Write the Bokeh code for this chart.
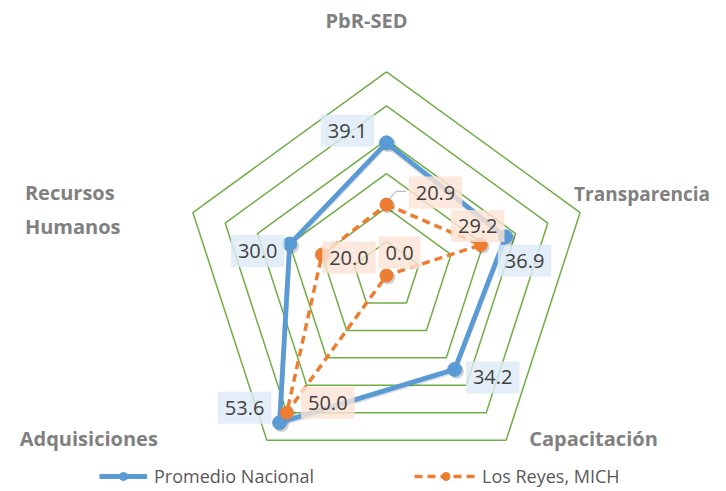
import math
from bokeh.plotting import figure
from bokeh.models import ColumnDataSource, Legend, LegendItem, Range1d
from bokeh.core.properties import value
from bokeh.embed import file_html
from bokeh.resources import INLINE

# ---- data ----
categories = ["PbR-SED", "Transparencia", "Capacitación", "Adquisiciones", "Recursos\nHumanos"]
promedio_nacional = [39.1, 36.9, 34.2, 53.6, 30.0]
los_reyes = [20.9, 29.2, 0.0, 50.0, 20.0]
series_names = ["Promedio Nacional", "Los Reyes, MICH"]
rings = [10, 20, 30, 40, 50, 60]

# ---- layout / style ----
W, H = 710, 488
CX, CY = 386, 275          # chart centre in canvas px (from top-left)
K = 3.393                  # px per unit
FONT = "Open Sans"
BLUE, ORANGE, GREEN = "#5b9bd5", "#ed7d31", "#70ad47"

n = len(categories)
ang = [2 * math.pi * i / n for i in range(n)]


def pol(r, i):
    return r * math.sin(ang[i]), r * math.cos(ang[i])


p = figure(width=W, height=H, output_backend="svg", toolbar_location=None,
           x_range=Range1d(-CX / K, (W - CX) / K),
           y_range=Range1d(-(H - CY) / K, CY / K),
           min_border=0)
p.axis.visible = False
p.grid.visible = False
p.outline_line_color = None
p.background_fill_color = "white"
p.border_fill_color = "white"

# grid pentagons
gx, gy = [], []
for rv in rings:
    pts = [pol(rv, i) for i in range(n)] + [pol(rv, 0)]
    gx.append([q[0] for q in pts])
    gy.append([q[1] for q in pts])
p.multi_line(gx, gy, line_color=GREEN, line_width=1.5)


def series_xy(vals):
    pts = [pol(v, i) for i, v in enumerate(vals)]
    return [q[0] for q in pts], [q[1] for q in pts]


bx, by = series_xy(promedio_nacional)
ox, oy = series_xy(los_reyes)
sh = 1.8 / K  # shadow offset

# shadows
p.line(bx + bx[:1], [v - sh for v in by + by[:1]], line_color="#000000", line_alpha=0.12, line_width=5)
p.scatter([v + sh for v in bx], [v - sh for v in by], size=15, fill_color="#000000", fill_alpha=0.18, line_color=None)
p.scatter([v + sh for v in ox], [v - sh for v in oy], size=14, fill_color="#000000", fill_alpha=0.18, line_color=None)

# series
bl = p.line(bx + bx[:1], by + by[:1], line_color=BLUE, line_width=4.8, line_join="round")
ol = p.line(ox + ox[:1], oy + oy[:1], line_color=ORANGE, line_width=3.5, line_dash="8 5")
bs = p.scatter(bx, by, size=14, fill_color=BLUE, line_color=BLUE)
os_ = p.scatter(ox, oy, size=13, fill_color=ORANGE, line_color=ORANGE)

# leader line for 20.9
lx0, ly0 = ox[0], oy[0]
p.line([lx0 + 3 / K, lx0 + 9.7 / K, lx0 + 19.7 / K],
       [ly0 + 6 / K, ly0 + 13.3 / K, ly0 + 13.3 / K], line_color="#a6a6a6", line_width=1)

# data labels (offsets in screen px, y down)
blue_off = [(-39, -12), (19, 24), (38, 8), (-35, -15), (-32, 7)]
orng_off = [(49, -12), (-3, -19), (13, -23), (41, -10), (27, 3)]
bsrc = ColumnDataSource(dict(x=bx, y=by, t=["%.1f" % v for v in promedio_nacional],
                             dx=[o[0] for o in blue_off], dy=[o[1] for o in blue_off]))
osrc = ColumnDataSource(dict(x=ox, y=oy, t=["%.1f" % v for v in los_reyes],
                             dx=[o[0] for o in orng_off], dy=[o[1] for o in orng_off]))
for src, bg in ((osrc, "#fbe3d4"), (bsrc, "#ddeaf6")):
    p.text(x="x", y="y", text="t", source=src, x_offset="dx", y_offset="dy",
           text_align="center", text_baseline="middle", text_font=value(FONT),
           text_font_size="20px", text_color="#404040",
           background_fill_color=bg, background_fill_alpha=0.82,
           padding=(7, 9))

# category labels
lab_r = [75.2, 60, 60, 60, 60]
lab_dx = [-20, -6, 23, -109, -168]
lab_dy = [0, -19, -2, -2, -3]
lab_align = ["center", "left", "left", "right", "left"]
lab_size = ["20px", "19px", "20px", "20px", "20px"]
lx, ly = [], []
for i in range(n):
    q = pol(lab_r[i], i)
    lx.append(q[0]); ly.append(q[1])
csrc = ColumnDataSource(dict(x=lx, y=ly, t=categories, dx=lab_dx, dy=lab_dy,
                             al=lab_align, fs=lab_size))
p.text(x="x", y="y", text="t", source=csrc, x_offset="dx", y_offset="dy",
       text_align="al", text_baseline="middle", text_font=value(FONT),
       text_font_style="bold", text_font_size="fs", text_color="#808080",
       text_line_height=1.26)

# legends
leg1 = Legend(items=[LegendItem(label=series_names[0], renderers=[bl, bs])],
              location=(99, 0), glyph_width=48, label_standoff=7)
leg2 = Legend(items=[LegendItem(label=series_names[1], renderers=[ol, os_])],
              location=(414, 0), glyph_width=63, label_standoff=5)
for lg in (leg1, leg2):
    lg.padding = 0
    lg.margin = 0
    lg.border_line_color = None
    lg.background_fill_alpha = 0
    lg.label_text_font = FONT
    lg.label_text_font_size = "18px"
    lg.label_text_color = "#595959"
    lg.glyph_height = 20
    lg.label_height = 20
    p.add_layout(lg)

open("out.html", "w").write(file_html(p, INLINE))
